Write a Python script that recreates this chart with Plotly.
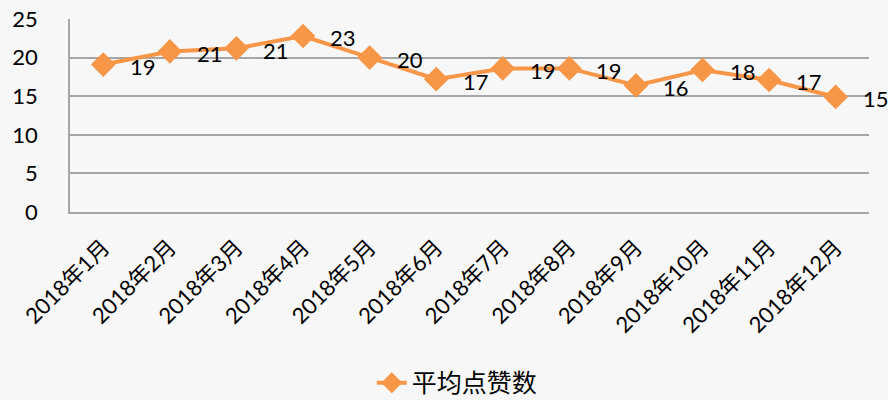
import plotly.graph_objects as go

months = ["2018年1月", "2018年2月", "2018年3月", "2018年4月", "2018年5月", "2018年6月",
          "2018年7月", "2018年8月", "2018年9月", "2018年10月", "2018年11月", "2018年12月"]
avg_likes = [19.1, 20.8, 21.2, 22.8, 20.0, 17.2, 18.6, 18.6, 16.4, 18.4, 17.1, 14.9]
series_name = "平均点赞数"
y_ticks = [0, 5, 10, 15, 20, 25]

ORANGE = "#F79646"
GRID = "#a6a6a6"
FONT = "Lato, 'Noto Sans CJK SC', sans-serif"

fig = go.Figure()
fig.add_trace(go.Scatter(
    x=months, y=avg_likes, name=series_name, mode="lines+markers",
    line=dict(color=ORANGE, width=4),
    marker=dict(symbol="diamond", size=19, color=ORANGE),
))

for m, v in zip(months, avg_likes):
    fig.add_annotation(x=m, y=v, xref="x", yref="y", text=f"{v:.0f}", showarrow=False,
                       xanchor="left", yanchor="middle", xshift=25, yshift=-2,
                       font=dict(family=FONT, size=22, color="#000"))

fig.update_layout(
    width=888, height=400,
    margin=dict(l=70, r=19, t=19, b=188, autoexpand=False),
    paper_bgcolor="#f7f7f7", plot_bgcolor="#f7f7f7",
    font=dict(family=FONT, color="#000"),
    showlegend=True,
    legend=dict(orientation="h", xref="container", x=0.515, xanchor="center",
                y=-0.886, yanchor="middle",
                font=dict(family="'Noto Sans CJK SC', sans-serif", size=25, color="#000"),
                bgcolor="rgba(0,0,0,0)"),
    xaxis=dict(type="category", range=[-0.5, len(months) - 0.5], tickangle=-45,
               showgrid=False, showline=True, automargin=False,
               linecolor=GRID, linewidth=1.5, ticks="", ticklabelstandoff=12,
               tickfont=dict(family=FONT, size=22, color="#000")),
    yaxis=dict(range=[0, 25], tickvals=y_ticks, showgrid=True, gridcolor=GRID, gridwidth=1.5,
               showline=True, linecolor=GRID, linewidth=1.5, zeroline=False, automargin=False,
               ticks="", ticklabelstandoff=26,
               tickfont=dict(family=FONT, size=22, color="#000")),
)

fig.write_html("out.html", config={"displayModeBar": False},
               post_script="document.body.style.margin='0';")
